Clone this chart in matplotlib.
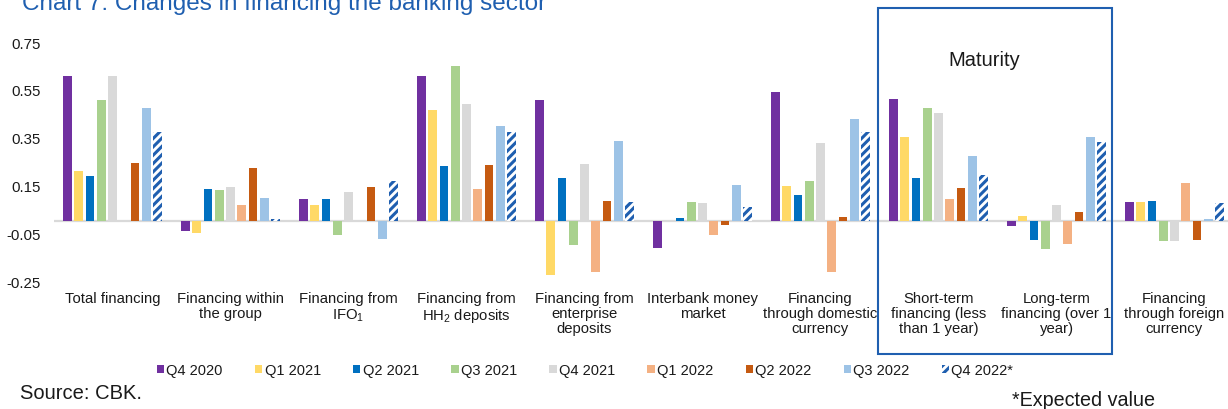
import matplotlib
matplotlib.use("Agg")
import matplotlib.pyplot as plt
import numpy as np
from matplotlib.patches import Rectangle

plt.rcParams['font.family'] = ['Liberation Sans', 'DejaVu Sans']
plt.rcParams['mathtext.fontset'] = 'custom'
plt.rcParams['mathtext.rm'] = 'Liberation Sans'
plt.rcParams['mathtext.it'] = 'Liberation Sans'
plt.rcParams['hatch.linewidth'] = 2.2

categories = [
    "Total financing",
    "Financing within\nthe group",
    "Financing from\nIFO$_1$",
    "Financing from\nHH$_2$ deposits",
    "Financing from\nenterprise\ndeposits",
    "Interbank money\nmarket",
    "Financing\nthrough domestic\ncurrency",
    "Short-term\nfinancing (less\nthan 1 year)",
    "Long-term\nfinancing (over 1\nyear)",
    "Financing\nthrough foreign\ncurrency",
]

series_names = ["Q4 2020", "Q1 2021", "Q2 2021", "Q3 2021", "Q4 2021",
                "Q1 2022", "Q2 2022", "Q3 2022", "Q4 2022*"]

q4_2020 = [0.608, -0.039, 0.092, 0.608, 0.507, -0.113, 0.542, 0.513, -0.018, 0.082]
q1_2021 = [0.212, -0.048, 0.066, 0.467, -0.224, 0.0, 0.147, 0.354, 0.022, 0.082]
q2_2021 = [0.189, 0.136, 0.094, 0.233, 0.182, 0.015, 0.110, 0.179, -0.077, 0.085]
q3_2021 = [0.509, 0.131, -0.057, 0.651, -0.099, 0.080, 0.169, 0.474, -0.117, -0.081]
q4_2021 = [0.609, 0.144, 0.122, 0.492, 0.240, 0.078, 0.328, 0.451, 0.067, -0.081]
q1_2022 = [0.0, 0.067, 0.0, 0.136, -0.212, -0.056, -0.211, 0.092, -0.094, 0.159]
q2_2022 = [0.243, 0.224, 0.143, 0.236, 0.085, -0.015, 0.018, 0.138, 0.039, -0.080]
q3_2022 = [0.475, 0.098, -0.074, 0.400, 0.337, 0.151, 0.428, 0.271, 0.351, 0.011]
q4_2022 = [0.375, 0.010, 0.169, 0.375, 0.081, 0.060, 0.375, 0.194, 0.333, 0.077]

series = [q4_2020, q1_2021, q2_2021, q3_2021, q4_2021, q1_2022, q2_2022, q3_2022, q4_2022]
colors = ["#7030A0", "#FFD966", "#0070C0", "#A9D18E", "#D9D9D9",
          "#F4B183", "#C55A11", "#9DC3E6", "#FFFFFF"]

yticks = [-0.25, -0.05, 0.15, 0.35, 0.55, 0.75]
ytick_labels = ["-0.25", "-0.05", "0.15", "0.35", "0.55", "0.75"]

W, H = 1228, 410
fig = plt.figure(figsize=(W / 100, H / 100), dpi=100)
ax = fig.add_axes([53.5 / W, (H - 282) / H, 1180 / W, 239 / H])

x = np.arange(len(categories))
stride = 0.095
bw = 0.0745
handles = []
for j, (vals, col, name) in enumerate(zip(series, colors, series_names)):
    pos = x + (j - 4) * stride
    if j == 8:
        b = ax.bar(pos, vals, bw, facecolor="white", edgecolor="#1F5FB0",
                   hatch="////", linewidth=0, label=name, zorder=2)
    else:
        b = ax.bar(pos, vals, bw, color=col, linewidth=0, label=name, zorder=2)
    handles.append(b)

ax.axhline(0, color="#D9D9D9", lw=1.6, zorder=1)
ax.set_xlim(-0.5, len(categories) - 0.5)
ax.set_ylim(-0.25, 0.75)
ax.set_yticks(yticks)
ax.set_yticklabels(ytick_labels, fontsize=10.8, color="#1a1a1a")
ax.set_xticks(x)
ax.set_xticklabels(categories, fontsize=10.7, color="#1a1a1a", linespacing=1.12)
ax.tick_params(axis="both", length=0)
ax.tick_params(axis="y", pad=9.5)
ax.tick_params(axis="x", pad=7)
for s in ax.spines.values():
    s.set_visible(False)

def px(xp, yp):
    return xp / W, (H - yp) / H

# Title (partly cut at the top, as in the source)
fig.text(*px(22, 10), "Chart 7: Changes in financing the banking sector",
         fontsize=17.5, color="#1F5FB0", ha="left", va="baseline")

# Maturity box
bx0, by0 = px(878, 355)
bx1, by1 = px(1112, 9)
fig.patches.append(Rectangle((bx0, by0), bx1 - bx0, by1 - by0, transform=fig.transFigure,
                             fill=False, edgecolor="#1F5FB0", lw=1.5, zorder=5))
fig.text(*px(984, 61), "Maturity", fontsize=14.5, color="#1a1a1a", ha="center", va="center")

leg = fig.legend(handles=handles, labels=series_names, loc="center",
                 bbox_to_anchor=px(585, 371), ncol=9, frameon=False, fontsize=10.5,
                 handlelength=0.5, handleheight=0.5, handletextpad=0.15,
                 columnspacing=2.22, labelcolor="#1a1a1a")

fig.text(*px(20, 394), "Source: CBK.", fontsize=14.5, color="#1a1a1a", ha="left", va="center")
fig.text(*px(1012, 401), "*Expected value", fontsize=14.2, color="#1a1a1a", ha="left", va="center")

fig.savefig("out.png", dpi=100)
